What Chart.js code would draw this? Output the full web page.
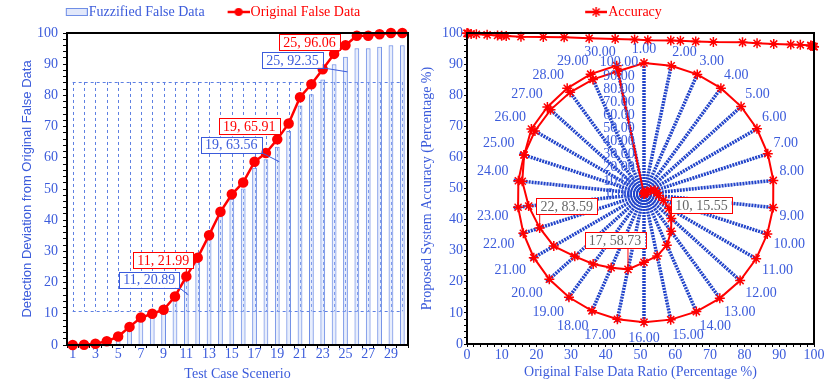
<!DOCTYPE html>
<html>
<head>
<meta charset="utf-8">
<script src="https://cdn.jsdelivr.net/npm/chart.js@4.4.1/dist/chart.umd.min.js"></script>
<style>
  html, body { margin: 0; padding: 0; background: #fff; overflow: hidden; }
  #wrap { position: relative; width: 831px; height: 385px; overflow: hidden; }
  canvas { position: absolute; }
  #leftChart { left: 0; top: 0; }
  #rightChart { left: 415px; top: 0; }
  #radarChart { left: 444px; top: 42px; }
</style>
</head>
<body>
<div id="wrap">
  <canvas id="leftChart" width="415" height="385"></canvas>
  <canvas id="rightChart" width="416" height="385"></canvas>
  <canvas id="radarChart" width="400" height="306"></canvas>
</div>
<script>
// test case scenarios 1..30
const scenarios = ["1", "2", "3", "4", "5", "6", "7", "8", "9", "10",
  "11", "12", "13", "14", "15", "16", "17", "18", "19", "20",
  "21", "22", "23", "24", "25", "26", "27", "28", "29", "30"];

// Fuzzified false data (bars)
const fuzzifiedData = [0, 0, 0.3, 0.8, 2.2, 5.0, 8.3, 9.5, 10.8, 14.8,
  20.89, 27.0, 34.5, 41.3, 46.8, 50.2, 56.8, 59.5, 63.56, 68.6,
  76.8, 80.4, 85.1, 90.0, 92.35, 95.1, 95.1, 95.6, 96.1, 96.1];

// Original false data (red line, also x of accuracy + radar spiral)
const originalData = [0, 0.1, 0.4, 1.2, 2.7, 5.8, 8.8, 10.0, 11.3, 15.55,
  21.99, 28.0, 35.2, 42.7, 48.3, 52.1, 58.73, 61.5, 65.91, 71.0,
  79.4, 83.59, 88.4, 93.3, 96.06, 99.1, 99.1, 99.6, 100, 100];

// proposed system accuracy
const accuracyData = [99.9, 99.9, 99.8, 99.7, 99.6, 99.4, 99.2, 99.1, 99.0, 98.8,
  98.7, 98.6, 98.3, 98.1, 97.9, 97.7, 97.6, 97.5, 97.3, 97.1,
  97.0, 96.7, 96.5, 96.3, 96.2, 96.0, 95.9, 95.8, 95.6, 95.6];

// dashed high-low band behind the bars
const bandLow = 10.8;
const bandHigh = 84.3;

const radarLabels = scenarios.map((s) => Number(s).toFixed(2));

const blue = "#3b5bdb";
const red = "#ff0000";
const barBlue = "#6f8ee6";
const serif = "'Liberation Serif', 'Times New Roman', serif";
const sans = "'Liberation Sans', Arial, sans-serif";

Chart.defaults.font.family = serif;
Chart.defaults.font.size = 14;
Chart.defaults.color = blue;

// legend icons (icon sits at the right end of the image)
function makeIcon(kind) {
  const c = document.createElement("canvas");
  c.width = 46;
  c.height = 12;
  const g = c.getContext("2d");
  const x0 = 24;
  const cy = 6;
  if (kind === "bar") {
    g.fillStyle = "rgba(190,205,245,0.45)";
    g.strokeStyle = barBlue;
    g.lineWidth = 1;
    g.fillRect(x0 + 0.5, cy - 3.5, 21, 7);
    g.strokeRect(x0 + 0.5, cy - 3.5, 21, 7);
  } else {
    g.strokeStyle = red;
    g.fillStyle = red;
    g.lineWidth = 2.5;
    g.beginPath();
    g.moveTo(x0, cy);
    g.lineTo(46, cy);
    g.stroke();
    if (kind === "circle") {
      g.beginPath();
      g.arc(x0 + 11, cy, 4, 0, Math.PI * 2);
      g.fill();
    } else {
      g.lineWidth = 1.5;
      const r = 5;
      g.beginPath();
      g.moveTo(x0 + 11 - r, cy); g.lineTo(x0 + 11 + r, cy);
      g.moveTo(x0 + 11, cy - r); g.lineTo(x0 + 11, cy + r);
      g.moveTo(x0 + 11 - r * 0.7, cy - r * 0.7); g.lineTo(x0 + 11 + r * 0.7, cy + r * 0.7);
      g.moveTo(x0 + 11 - r * 0.7, cy + r * 0.7); g.lineTo(x0 + 11 + r * 0.7, cy - r * 0.7);
      g.stroke();
    }
  }
  return c;
}

function legendOptions(icons, colors) {
  return {
    position: "top",
    labels: {
      usePointStyle: true,
      pointStyleWidth: 34,
      padding: 5,
      font: { family: serif, size: 14 },
      sort: (a, b) => a.datasetIndex - b.datasetIndex,
      generateLabels: (chart) => {
        const items = Chart.defaults.plugins.legend.labels.generateLabels(chart);
        return items.filter((it) => icons[it.datasetIndex]).map((it) => {
          it.pointStyle = icons[it.datasetIndex];
          it.fontColor = colors[it.datasetIndex];
          return it;
        });
      },
    },
  };
}

// black frame round the plot area
const framePlugin = {
  id: "frame",
  afterDatasetsDraw(chart) {
    const { ctx, chartArea: a } = chart;
    ctx.save();
    ctx.strokeStyle = "#000";
    ctx.lineWidth = 2;
    ctx.strokeRect(a.left, a.top, a.right - a.left, a.bottom - a.top);
    ctx.restore();
  },
};

// dashed band lines at every category
const bandPlugin = {
  id: "band",
  beforeDatasetsDraw(chart) {
    const { ctx } = chart;
    const xs = chart.scales.x;
    const ys = chart.scales.y;
    const yLo = ys.getPixelForValue(bandLow);
    const yHi = ys.getPixelForValue(bandHigh);
    ctx.save();
    ctx.strokeStyle = "#5d7fe2";
    ctx.lineWidth = 1;
    ctx.setLineDash([3, 3]);
    ctx.beginPath();
    scenarios.forEach((s, i) => {
      const x = Math.round(xs.getPixelForValue(i)) + 0.5;
      ctx.moveTo(x, yHi);
      ctx.lineTo(x, yLo);
    });
    const x1 = xs.getPixelForValue(0);
    const x2 = xs.getPixelForValue(scenarios.length - 1);
    ctx.moveTo(x1, Math.round(yHi) + 0.5);
    ctx.lineTo(x2, Math.round(yHi) + 0.5);
    ctx.moveTo(x1, Math.round(yLo) + 0.5);
    ctx.lineTo(x2, Math.round(yLo) + 0.5);
    ctx.stroke();
    ctx.restore();
  },
};

// boxed value labels with leader lines
const calloutPlugin = {
  id: "callouts",
  afterDraw(chart, args, opts) {
    const { ctx } = chart;
    (opts.notes || []).forEach((n) => {
      const el = chart.getDatasetMeta(n.ds).data[n.i];
      const values = chart.data.datasets[n.ds].data;
      const text = `${scenarios[n.i]}, ${Number(values[n.i]).toFixed(2)}`;
      ctx.save();
      ctx.font = `14px ${serif}`;
      const w = ctx.measureText(text).width + 8;
      const h = 16;
      const cx = el.x + n.dx;
      const cy = el.y + n.dy;
      const left = cx - w / 2;
      const top = cy - h / 2;
      const ex = el.x + (n.ex || 0);
      const ey = el.y + (n.ey || 0);
      const sx = Math.min(Math.max(ex, left), left + w);
      const sy = Math.min(Math.max(ey, top), top + h);
      ctx.strokeStyle = n.color;
      ctx.lineWidth = 1;
      ctx.beginPath();
      ctx.moveTo(sx, sy);
      ctx.lineTo(ex, ey);
      ctx.stroke();
      ctx.fillStyle = "#fff";
      ctx.fillRect(left, top, w, h);
      ctx.strokeRect(Math.round(left) + 0.5, Math.round(top) + 0.5, Math.round(w), h);
      ctx.fillStyle = n.textColor;
      ctx.textAlign = "center";
      ctx.textBaseline = "middle";
      ctx.fillText(text, cx, cy + 1);
      ctx.restore();
    });
  },
};

// radar tick labels drawn slightly left of the centre
const radarTicksPlugin = {
  id: "radarTicks",
  afterDatasetsDraw(chart) {
    const { ctx } = chart;
    const r = chart.scales.r;
    ctx.save();
    ctx.font = `14px ${serif}`;
    ctx.fillStyle = blue;
    ctx.textAlign = "center";
    ctx.textBaseline = "middle";
    r.ticks.forEach((t) => {
      const d = r.getDistanceFromCenterForValue(t.value);
      ctx.fillText(t.value.toFixed(2), r.xCenter - 25, r.yCenter - d);
    });
    ctx.restore();
  },
};

const minorTickLabel = (v) => (v % 10 === 0 ? v : "");

// ---------------- left chart ----------------
new Chart(document.getElementById("leftChart"), {
  data: {
    labels: scenarios,
    datasets: [
      {
        type: "bar",
        label: "Fuzzified False Data",
        data: fuzzifiedData,
        backgroundColor: "rgba(190,205,245,0.35)",
        borderColor: barBlue,
        borderWidth: 1,
        barPercentage: 0.42,
        categoryPercentage: 1,
        order: 2,
      },
      {
        type: "line",
        label: "Original False Data",
        data: originalData,
        borderColor: red,
        backgroundColor: red,
        borderWidth: 2.5,
        pointRadius: 4,
        pointBackgroundColor: red,
        pointBorderColor: red,
        tension: 0,
        clip: false,
        order: 1,
      },
    ],
  },
  options: {
    responsive: false,
    animation: false,
    events: [],
    layout: { padding: { left: 0, right: 7, top: 0, bottom: 0 } },
    plugins: {
      legend: legendOptions([makeIcon("bar"), makeIcon("circle")], [blue, red]),
      tooltip: { enabled: false },
      callouts: {
        notes: [
          { ds: 1, i: 10, dx: -23, dy: -16, color: red, textColor: red },
          { ds: 0, i: 10, dx: -37, dy: 0, ex: 2, ey: 15, color: blue, textColor: blue },
          { ds: 1, i: 18, dx: -28, dy: -13, color: red, textColor: red },
          { ds: 0, i: 18, dx: -46, dy: -2, ex: 2, ey: 15, color: blue, textColor: blue },
          { ds: 1, i: 24, dx: -36, dy: -3, color: red, textColor: red },
          { ds: 0, i: 24, dx: -53, dy: 3, ex: 2, ey: 15, color: blue, textColor: blue },
        ],
      },
    },
    scales: {
      x: {
        type: "category",
        offset: true,
        border: { display: false },
        grid: { drawOnChartArea: false, drawTicks: true, tickLength: 3, tickColor: "#000", offset: true },
        ticks: {
          autoSkip: false,
          maxRotation: 0,
          padding: -2,
          color: blue,
          callback: (v, i) => (i % 2 === 0 ? scenarios[i] : ""),
        },
        title: { display: true, text: "Test Case Scenerio", color: blue, font: { family: serif, size: 14 }, padding: { top: 0, bottom: 2 } },
        afterFit: (s) => { s.height = 40; },
      },
      xTop: {
        type: "category",
        position: "top",
        display: true,
        border: { display: false },
        grid: { display: false },
        ticks: { display: false },
        afterFit: (s) => { s.height = 4; },
      },
      y: {
        min: 0,
        max: 100,
        border: { display: false },
        grid: { drawOnChartArea: false, drawTicks: true, tickLength: 4, tickColor: "#000" },
        ticks: { stepSize: 2, autoSkip: false, padding: 5, color: blue, callback: minorTickLabel },
        title: {
          display: true,
          text: "Detection Deviation from Original False Data",
          color: blue,
          font: { family: sans, size: 13 },
          padding: { top: 20, bottom: 0 },
        },
        afterFit: (s) => { s.width = 67; },
      },
    },
  },
  plugins: [bandPlugin, framePlugin, calloutPlugin],
});

// ---------------- right chart ----------------
new Chart(document.getElementById("rightChart"), {
  type: "scatter",
  data: {
    datasets: [
      {
        type: "line",
        label: "Accuracy",
        data: originalData.map((x, i) => ({ x, y: accuracyData[i] })),
        borderColor: red,
        backgroundColor: red,
        borderWidth: 2,
        pointStyle: "star",
        pointRadius: 5,
        pointBorderColor: red,
        pointBorderWidth: 1.5,
        showLine: true,
        tension: 0,
        clip: false,
      },
    ],
  },
  options: {
    responsive: false,
    animation: false,
    events: [],
    layout: { padding: { left: 0, right: 17, top: 0, bottom: 0 } },
    plugins: {
      legend: legendOptions([makeIcon("star")], [red]),
      tooltip: { enabled: false },
    },
    scales: {
      x: {
        type: "linear",
        min: 0,
        max: 100,
        border: { display: false },
        grid: { drawOnChartArea: false, drawTicks: true, tickLength: 3, tickColor: "#000" },
        ticks: { stepSize: 2, autoSkip: false, maxRotation: 0, padding: 0, color: blue, callback: minorTickLabel },
        title: {
          display: true,
          text: "Original False Data Ratio (Percentage %)",
          color: blue,
          font: { family: serif, size: 14 },
          padding: { top: 0, bottom: 4 },
        },
        afterFit: (s) => { s.height = 41; },
      },
      xTop: {
        type: "linear",
        position: "top",
        display: true,
        border: { display: false },
        grid: { display: false },
        ticks: { display: false },
        afterFit: (s) => { s.height = 4; },
      },
      y: {
        min: 0,
        max: 100,
        border: { display: false },
        grid: { drawOnChartArea: false, drawTicks: true, tickLength: 3, tickColor: "#000" },
        ticks: { stepSize: 2, autoSkip: false, padding: 1, color: blue, callback: minorTickLabel },
        title: {
          display: true,
          text: "Proposed System Accuracy (Percentage %)",
          color: blue,
          font: { family: serif, size: 14 },
          padding: { top: 4, bottom: 0 },
        },
        afterFit: (s) => { s.width = 52; },
      },
    },
  },
  plugins: [framePlugin],
});

// ---------------- radar overlay ----------------
new Chart(document.getElementById("radarChart"), {
  type: "radar",
  data: {
    labels: radarLabels,
    datasets: [
      {
        label: "Original False Data",
        data: originalData,
        borderColor: red,
        backgroundColor: red,
        borderWidth: 2,
        pointStyle: "star",
        pointRadius: 5,
        pointBorderColor: red,
        pointBorderWidth: 1.5,
        fill: false,
        clip: false,
      },
      {
        label: "Accuracy",
        data: accuracyData,
        borderColor: red,
        backgroundColor: red,
        borderWidth: 2,
        pointStyle: "star",
        pointRadius: 5,
        pointBorderColor: red,
        pointBorderWidth: 1.5,
        fill: false,
        clip: false,
      },
    ],
  },
  options: {
    responsive: false,
    animation: false,
    events: [],
    plugins: {
      legend: { display: false },
      tooltip: { enabled: false },
      callouts: {
        notes: [
          { ds: 0, i: 9, dx: 38, dy: 5, color: red, textColor: "#666" },
          { ds: 0, i: 21, dx: 27, dy: -22, color: red, textColor: "#666" },
          { ds: 0, i: 16, dx: -13, dy: -29, color: red, textColor: "#666" },
        ],
      },
    },
    scales: {
      r: {
        min: 0,
        max: 100,
        ticks: { display: false, stepSize: 10 },
        grid: { display: false },
        angleLines: { display: true, color: "#2143c9", lineWidth: 3.5, borderDash: [2, 1] },
        pointLabels: { color: blue, padding: 5, font: { family: serif, size: 14 } },
      },
    },
  },
  plugins: [radarTicksPlugin, calloutPlugin],
});
</script>
</body>
</html>
